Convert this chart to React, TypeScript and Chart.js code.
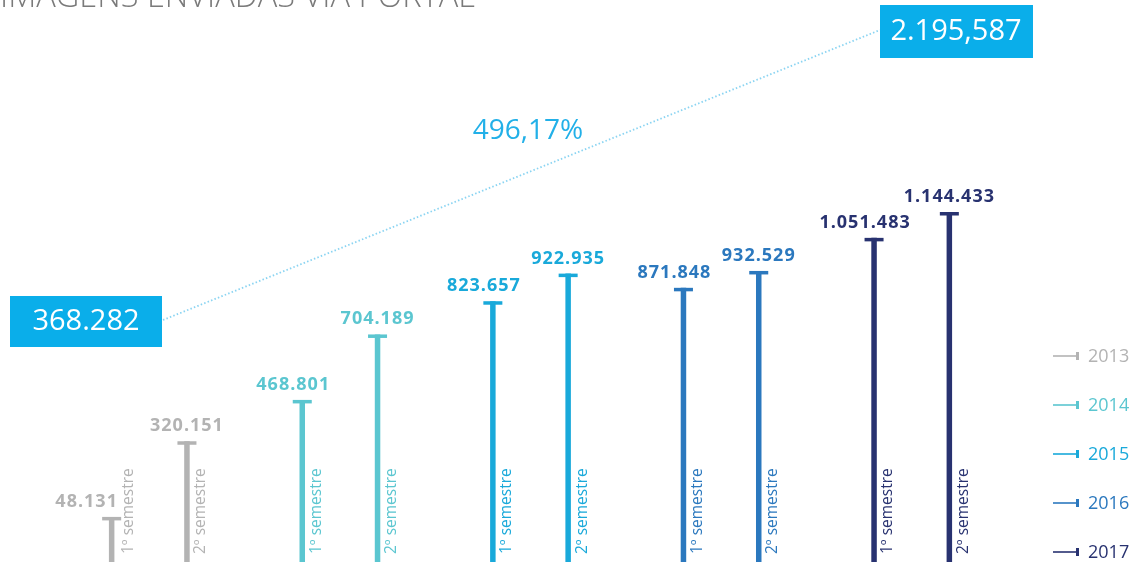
import React, { useEffect, useRef } from 'react';
import { Chart, registerables } from 'chart.js';
Chart.register(...registerables);

const TITLE = 'IMAGENS ENVIADAS VIA PORTAL';
const years = ['2013', '2014', '2015', '2016', '2017'];
const semesterLabels = ['1º semestre', '2º semestre'];
const firstSemester = [48131, 468801, 823657, 871848, 1051483];
const secondSemester = [320151, 704189, 922935, 932529, 1144433];
const yearColors = ['#b3b3b3', '#5bc6d0', '#19a9da', '#2b78be', '#283270'];
const startTotalText = '368.282';
const endTotalText = '2.195,587';
const growthText = '496,17%';
const yMin = -114000;
const yMax = 1700000;

function fmt(v: number): string {
  return String(v).replace(/\B(?=(\d{3})+(?!\d))/g, '.');
}

const decorPlugin = {
  id: 'decor',
  afterDatasetsDraw(chart: any) {
    const ctx: CanvasRenderingContext2D = chart.ctx;
    const area = chart.chartArea;
    ctx.save();
    // caps, value labels, rotated semester labels
    chart.data.datasets.forEach((ds: any, di: number) => {
      const meta = chart.getDatasetMeta(di);
      meta.data.forEach((bar: any, i: number) => {
        const color = yearColors[i];
        const x = bar.x;
        const y = bar.y;
        ctx.fillStyle = color;
        ctx.fillRect(x - 9.5, y, 19, 3.5);
        // value label
        ctx.font = 'bold 18px "Open Sans"';
        (ctx as any).letterSpacing = '1px';
        ctx.textAlign = 'center';
        ctx.textBaseline = 'alphabetic';
        const dx = di === 0 ? (i === 0 ? -25 : -9) : 0;
        ctx.fillText(fmt(ds.data[i]), x + dx, y - 10);
        (ctx as any).letterSpacing = '0px';
        // rotated semester label
        ctx.save();
        ctx.translate(x + (di === 0 && i === 0 ? 17 : 14), area.bottom - 8);
        ctx.rotate(-Math.PI / 2);
        ctx.font = '500 15.5px "Open Sans"';
        ctx.textAlign = 'left';
        ctx.textBaseline = 'middle';
        ctx.fillText(semesterLabels[di], 0, 0);
        ctx.restore();
      });
    });

    // legend
    years.forEach((yr, i) => {
      const cy = 356 + i * 49;
      const c = yearColors[i];
      ctx.strokeStyle = c;
      ctx.lineWidth = 1.6;
      ctx.beginPath();
      ctx.moveTo(1053, cy);
      ctx.lineTo(1077, cy);
      ctx.stroke();
      ctx.fillStyle = c;
      ctx.fillRect(1076, cy - 4, 3, 8);
      ctx.font = '18px "Open Sans"';
      ctx.textAlign = 'left';
      ctx.textBaseline = 'middle';
      ctx.fillText(yr, 1088, cy + 1);
    });

    // title (cut at top)
    ctx.fillStyle = '#7a7a7a';
    ctx.font = '300 30px "Open Sans"';
    const w = ctx.measureText(TITLE).width;
    const size = 30 * 475 / w;
    ctx.font = `300 ${size}px "Open Sans"`;
    ctx.textAlign = 'left';
    ctx.textBaseline = 'alphabetic';
    ctx.fillText(TITLE, 0, 7);

    // dotted connector
    ctx.strokeStyle = '#8ad4f2';
    ctx.lineWidth = 1.8;
    ctx.setLineDash([1.5, 2.2]);
    ctx.beginPath();
    ctx.moveTo(163, 320);
    ctx.lineTo(880, 30);
    ctx.stroke();
    ctx.setLineDash([]);

    // boxes
    const boxColor = '#0aaeea';
    ctx.fillStyle = boxColor;
    ctx.fillRect(10, 296, 152, 51);
    ctx.fillRect(880, 5, 153, 53);
    ctx.fillStyle = '#ffffff';
    ctx.font = '29px "Open Sans"';
    ctx.textAlign = 'center';
    ctx.textBaseline = 'middle';
    ctx.fillText(startTotalText, 86, 322);
    ctx.fillText(endTotalText, 956, 32);

    // growth
    ctx.fillStyle = '#22b0e8';
    ctx.font = '28px "Open Sans"';
    ctx.fillText(growthText, 528, 131);
    ctx.restore();
  },
};

export default function App() {
  const ref = useRef<HTMLCanvasElement | null>(null);
  useEffect(() => {
    if (!ref.current) return;
    const chart = new Chart(ref.current, {
      type: 'bar',
      data: {
        labels: years,
        datasets: [
          {
            label: semesterLabels[0],
            data: firstSemester,
            backgroundColor: yearColors,
            base: yMin,
            borderWidth: 0,
          } as any,
          {
            label: semesterLabels[1],
            data: secondSemester,
            backgroundColor: yearColors,
            base: yMin,
            borderWidth: 0,
          } as any,
        ],
      },
      options: {
        animation: false,
        responsive: true,
        maintainAspectRatio: false,
        devicePixelRatio: 1,
        layout: { padding: { left: 54, right: 130, top: 57.5, bottom: 0 } },
        datasets: { bar: { categoryPercentage: 0.79, barPercentage: 0.9, maxBarThickness: 5.5 } },
        scales: {
          x: { display: false },
          y: { display: false, min: yMin, max: yMax },
        },
        plugins: {
          legend: { display: false },
          tooltip: { enabled: false },
          title: { display: false },
        },
      },
      plugins: [decorPlugin],
    });
    return () => chart.destroy();
  }, []);
  return (
    <div style={{ position: 'absolute', left: 0, top: 0, width: 1137, height: 562, background: '#fff' }}>
      <canvas ref={ref} />
    </div>
  );
}
